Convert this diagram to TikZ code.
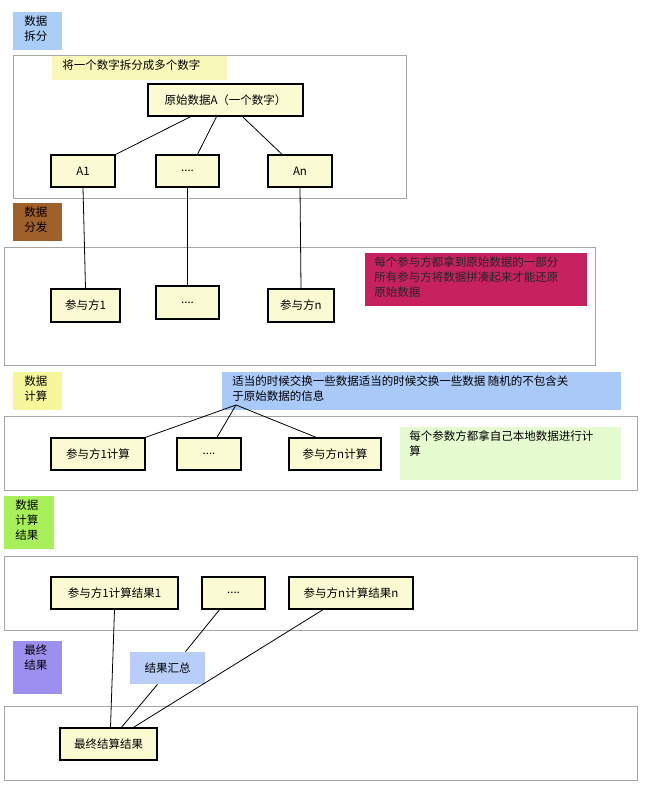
\documentclass[tikz,border=0pt]{standalone}
\usepackage{fontspec}
\setmainfont{Noto Sans CJK SC}
\definecolor{boxfill}{HTML}{FAFBD2}
\definecolor{lblue}{HTML}{A9CDF5}
\definecolor{lbrown}{HTML}{A0602A}
\definecolor{lyellow}{HTML}{F5F79A}
\definecolor{lgreen}{HTML}{A8F05A}
\definecolor{lpurple}{HTML}{9D8FF0}
\definecolor{pink}{HTML}{C8215F}
\definecolor{pale}{HTML}{E5FBD0}
\definecolor{noteblue}{HTML}{A9C9F8}
\definecolor{sumblue}{HTML}{B8CDF8}
\begin{document}
\begin{tikzpicture}[x=1pt,y=-1pt,font=\fontsize{11.5}{15}\selectfont,
  box/.style={draw,line width=1.4pt,fill=boxfill,inner sep=2pt},
  cont/.style={draw=gray!70,line width=0.8pt},
  every path/.style={line width=0.8pt}]
\useasboundingbox (0,0) rectangle (662,794);
% containers
\draw[cont] (13,55) rectangle (406,198);
\draw[cont] (4,247) rectangle (595,365);
\draw[cont] (4,416) rectangle (637,490);
\draw[cont] (4,556) rectangle (637,630);
\draw[cont] (4,706) rectangle (637,780);
% stage labels
\fill[lblue] (13,12) rectangle (62,50);
\node[anchor=north west,align=left,inner sep=0pt] (l1) at (24,15) {数据\\拆分};
\fill[lbrown] (13,203) rectangle (62,241);
\node[anchor=north west,align=left,inner sep=0pt] (l2) at (24,206) {数据\\分发};
\fill[lyellow] (13,372) rectangle (62,410);
\node[anchor=north west,align=left,inner sep=0pt] (l3) at (24,375) {数据\\计算};
\fill[lgreen] (4,496) rectangle (54,549);
\node[anchor=north west,align=left,inner sep=0pt] (l4) at (15,499) {数据\\计算\\结果};
\fill[lpurple] (13,641) rectangle (62,694);
\node[anchor=north west,align=left,inner sep=0pt] (l5) at (24,644) {最终\\结果};
% notes
\fill[lyellow!70] (52,56) rectangle (227,80);
\node[anchor=north west,inner sep=0pt] (n1) at (62,59) {将一个数字拆分成多个数字};
\fill[pink] (365,253) rectangle (587,306);
\node[anchor=north west,align=left,inner sep=0pt,text=black!85] (n2) at (374,256) {每个参与方都拿到原始数据的一部分\\所有参与方将数据拼凑起来才能还原\\原始数据};
\fill[noteblue] (222,372) rectangle (621,410);
\node[anchor=north west,align=left,inner sep=0pt] (n3) at (232,375) {适当的时候交换一些数据适当的时候交换一些数据 随机的不包含关\\于原始数据的信息};
\fill[pale] (400,427) rectangle (621,480);
\node[anchor=north west,align=left,inner sep=0pt] (n4) at (409,430) {每个参数方都拿自己本地数据进行计\\算};
\node[fill=sumblue,minimum width=75pt,minimum height=32pt] (sum) at (167.5,668) {结果汇总};
% boxes
\node[box,minimum width=155pt,minimum height=32pt] (orig) at (225.5,100) {原始数据A（一个数字）};
\node[box,minimum width=64pt,minimum height=32pt] (a1) at (83,171) {A1};
\node[box,minimum width=63pt,minimum height=32pt] (ad) at (187.5,171) {....};
\node[box,minimum width=64pt,minimum height=32pt] (an) at (300,171) {An};
\node[box,minimum width=69pt,minimum height=33pt] (p1) at (85.5,305.5) {参与方1};
\node[box,minimum width=63pt,minimum height=33pt] (pd) at (187.5,302.5) {....};
\node[box,minimum width=66pt,minimum height=33pt] (pn) at (301,305.5) {参与方n};
\node[box,minimum width=94pt,minimum height=32pt] (c1) at (98,454) {参与方1计算};
\node[box,minimum width=64pt,minimum height=32pt] (cd) at (209,454) {....};
\node[box,minimum width=92pt,minimum height=32pt] (cn) at (335,454) {参与方n计算};
\node[box,minimum width=127pt,minimum height=32pt] (r1) at (114.5,593) {参与方1计算结果1};
\node[box,minimum width=63pt,minimum height=32pt] (rd) at (233.5,593) {....};
\node[box,minimum width=124pt,minimum height=32pt] (rn) at (351,593) {参与方n计算结果n};
\node[box,minimum width=97pt,minimum height=32pt] (fin) at (108.5,744) {最终结算结果};
\coordinate (hub) at (236,405);
% connectors
\draw ([xshift=-35pt]orig.south) -- ([xshift=33pt]a1.north);
\draw ([xshift=-9pt]orig.south) -- ([xshift=10pt]ad.north);
\draw ([xshift=17pt]orig.south) -- ([xshift=-18pt]an.north);
\draw (a1.south) -- (p1.north);
\draw (ad.south) -- (pd.north);
\draw (an.south) -- (pn.north);
\draw (hub) -- (c1.north east);
\draw (hub) -- ([xshift=8pt]cd.north);
\draw (hub) -- ([xshift=-19pt]cn.north);
\draw (r1.south) -- ([xshift=2pt]fin.north);
\draw ([xshift=-14pt]rd.south) -- ([xshift=18pt]sum.north);
\draw ([xshift=-10pt]sum.south) -- ([xshift=13pt]fin.north);
\draw ([xshift=-28pt]rn.south) -- ([xshift=25pt]fin.north);
\end{tikzpicture}
\end{document}
